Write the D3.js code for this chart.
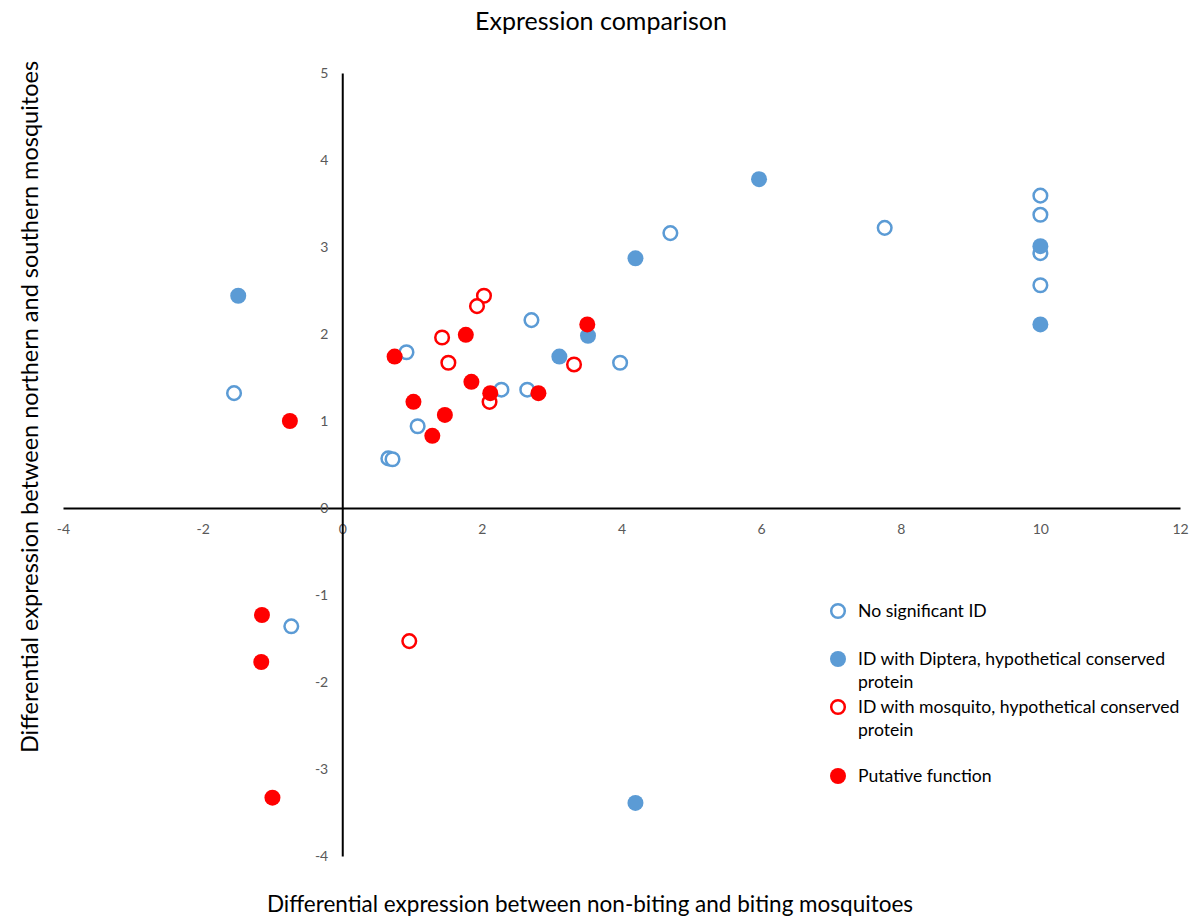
<!DOCTYPE html>
<html>
<head>
<meta charset="utf-8">
<script src="https://cdn.jsdelivr.net/npm/d3@7"></script>
<style>
  body { margin: 0; background: #fff; }
  text { font-family: Lato, "Open Sans", sans-serif; }
</style>
</head>
<body>
<svg id="chart" width="1190" height="919"></svg>
<script>
// No significant ID
const noIdX = [-1.55, 0.92, 1.08, 0.66, 0.72, 2.71, 2.28, 2.65, 3.98, 4.70, 7.77, 10, 10, 10, 10, -0.73];
const noIdY = [1.32, 1.79, 0.94, 0.57, 0.56, 2.16, 1.36, 1.36, 1.67, 3.16, 3.22, 3.59, 3.37, 2.93, 2.56, -1.36];
// ID with Diptera
const dipteraX = [-1.49, 3.52, 3.11, 4.20, 5.97, 10, 10, 4.20];
const dipteraY = [2.44, 1.98, 1.74, 2.87, 3.78, 3.01, 2.11, -3.39];
// ID with mosquito
const mosqX = [2.03, 1.93, 1.43, 1.52, 2.11, 3.32, 0.96];
const mosqY = [2.44, 2.32, 1.96, 1.67, 1.22, 1.65, -1.53];
// Putative function
const putX = [-0.75, 0.75, 1.77, 1.85, 2.12, 2.81, 1.02, 1.47, 1.29, 3.51, -1.15, -1.16, -1.00];
const putY = [1.00, 1.74, 1.99, 1.45, 1.32, 1.32, 1.22, 1.07, 0.83, 2.11, -1.23, -1.77, -3.33];

const xTicks = [-4, -2, 0, 2, 4, 6, 8, 10, 12];
const yTicks = [-4, -3, -2, -1, 0, 1, 2, 3, 4, 5];

const blue = "#5b9bd5", red = "#ff0000";

const series = [
  { name: ["No significant ID"], xs: noIdX, ys: noIdY, color: blue, filled: false },
  { name: ["ID with Diptera, hypothetical conserved", "protein"], xs: dipteraX, ys: dipteraY, color: blue, filled: true },
  { name: ["ID with mosquito, hypothetical conserved", "protein"], xs: mosqX, ys: mosqY, color: red, filled: false },
  { name: ["Putative function"], xs: putX, ys: putY, color: red, filled: true }
];

const svg = d3.select("#chart");
const x = d3.scaleLinear().domain([-4, 12]).range([63, 1180]);
const y = d3.scaleLinear().domain([-4, 5]).range([856, 73]);

// title
svg.append("text").attr("x", 601).attr("y", 30).attr("text-anchor", "middle")
  .style("font-size", "25px").attr("fill", "#000").text("Expression comparison");

const plain = (d) => String(d); // hyphen minus like the original

// x axis through y=0
const xAxis = svg.append("g").attr("transform", `translate(0,${y(0)})`)
  .call(d3.axisBottom(x).tickValues(xTicks).tickFormat(plain).tickSize(0).tickPadding(16));
xAxis.select(".domain").attr("stroke", "#000").attr("stroke-width", 2);
xAxis.selectAll("text").style("font-size", "14px").attr("fill", "#595959")
  .style("font-family", "Lato, 'Open Sans', sans-serif");

// y axis through x=0
const yAxis = svg.append("g").attr("transform", `translate(${x(0)},0)`)
  .call(d3.axisLeft(y).tickValues(yTicks).tickFormat(plain).tickSize(0).tickPadding(14));
yAxis.select(".domain").attr("stroke", "#000").attr("stroke-width", 2);
yAxis.selectAll("text").style("font-size", "14px").attr("fill", "#595959")
  .style("font-family", "Lato, 'Open Sans', sans-serif");

// points
series.forEach((s) => {
  const pts = s.xs.map((v, i) => ({ x: v, y: s.ys[i] }));
  svg.append("g").selectAll("circle")
    .data(pts)
    .join("circle")
    .attr("cx", (d) => x(d.x))
    .attr("cy", (d) => y(d.y))
    .attr("r", s.filled ? 8 : 6.8)
    .attr("fill", s.filled ? s.color : "#fff")
    .attr("stroke", s.color)
    .attr("stroke-width", s.filled ? 0 : 2.5);
});

// legend
const legY = [611, 659, 707, 776];
series.forEach((s, i) => {
  const g = svg.append("g").attr("transform", `translate(838,${legY[i]})`);
  g.append("circle").attr("r", s.filled ? 8 : 6.8)
    .attr("fill", s.filled ? s.color : "#fff")
    .attr("stroke", s.color).attr("stroke-width", s.filled ? 0 : 2.5);
  s.name.forEach((line, j) => {
    g.append("text").attr("x", 20).attr("y", 6 + j * 23)
      .style("font-size", "17.6px").attr("fill", "#000").text(line);
  });
});

// axis titles
svg.append("text").attr("x", 590).attr("y", 912).attr("text-anchor", "middle")
  .style("font-size", "22.5px").attr("fill", "#000")
  .text("Differential expression between non-biting and biting mosquitoes");
svg.append("text").attr("transform", "translate(38,407) rotate(-90)").attr("text-anchor", "middle")
  .style("font-size", "23.5px").attr("fill", "#000")
  .text("Differential expression between northern and southern mosquitoes");
</script>
</body>
</html>
